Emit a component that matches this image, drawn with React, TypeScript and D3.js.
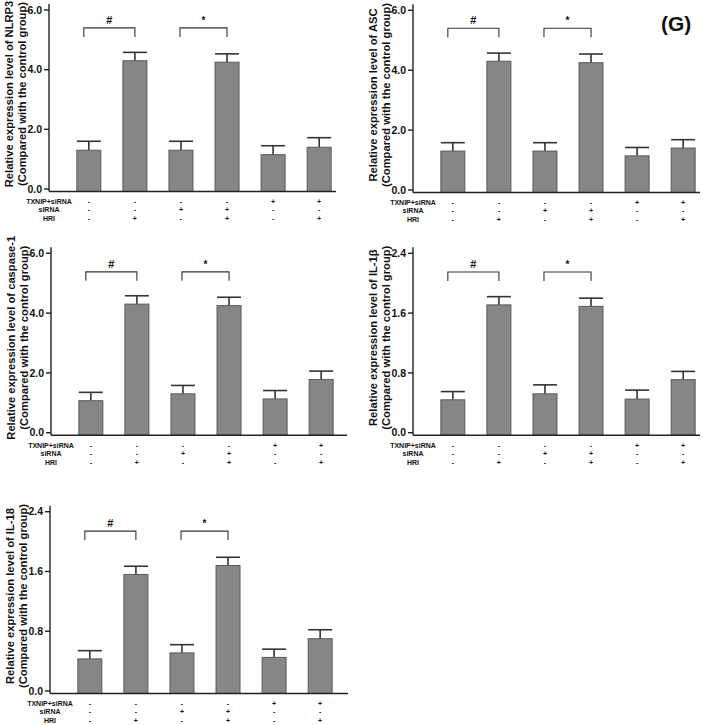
import React from "react";
import * as d3 from "d3";

const conditions = ["Control", "HRI", "siRNA", "siRNA+HRI", "TXNIP+siRNA", "TXNIP+siRNA+HRI"];
const rowLabels = ["TXNIP+siRNA", "siRNA", "HRI"];
const txnipSigns = ["-", "-", "-", "-", "+", "+"];
const sirnaSigns = ["-", "-", "+", "+", "-", "-"];
const hriSigns = ["-", "+", "-", "+", "-", "+"];

const nlrp3Mean = [1.3, 4.3, 1.3, 4.25, 1.15, 1.4];
const nlrp3Err = [0.3, 0.28, 0.3, 0.28, 0.3, 0.32];
const ascMean = [1.3, 4.3, 1.3, 4.25, 1.14, 1.4];
const ascErr = [0.28, 0.27, 0.28, 0.29, 0.28, 0.28];
const casp1Mean = [1.07, 4.3, 1.3, 4.25, 1.13, 1.78];
const casp1Err = [0.28, 0.28, 0.28, 0.28, 0.28, 0.28];
const il1bMean = [0.44, 1.71, 0.52, 1.69, 0.45, 0.71];
const il1bErr = [0.11, 0.11, 0.12, 0.11, 0.12, 0.11];
const il18Mean = [0.43, 1.56, 0.51, 1.68, 0.45, 0.7];
const il18Err = [0.11, 0.11, 0.11, 0.11, 0.11, 0.12];

const ticks6 = [0, 2, 4, 6];
const ticks24 = [0, 0.8, 1.6, 2.4];

const sigPairs: [number, number, string][] = [
  [0, 1, "#"],
  [2, 3, "*"],
];

const FONT = '"Liberation Sans", Arial, Helvetica, sans-serif';

type PanelSpec = {
  name: string;
  mean: number[];
  err: number[];
  ticks: number[];
  bracket: number;
  x0: number;
  yTop: number;
  y0: number;
  axisLen: number;
};

const panels: PanelSpec[] = [
  { name: "NLRP3", mean: nlrp3Mean, err: nlrp3Err, ticks: ticks6, bracket: 5.4, x0: 49, yTop: 10, y0: 189, axisLen: 287 },
  { name: "ASC", mean: ascMean, err: ascErr, ticks: ticks6, bracket: 5.4, x0: 413, yTop: 10.3, y0: 190, axisLen: 287 },
  { name: "caspase-1", mean: casp1Mean, err: casp1Err, ticks: ticks6, bracket: 5.38, x0: 51, yTop: 253.3, y0: 432.7, axisLen: 296 },
  { name: "IL-1β", mean: il1bMean, err: il1bErr, ticks: ticks24, bracket: 2.15, x0: 413, yTop: 253.3, y0: 432.7, axisLen: 287 },
  { name: "IL-18", mean: il18Mean, err: il18Err, ticks: ticks24, bracket: 2.14, x0: 50, yTop: 511.7, y0: 691, axisLen: 298 },
];

const signRows = [txnipSigns, sirnaSigns, hriSigns];
const rowOffsets = [12.5, 21, 29.5];

function Panel({ p }: { p: PanelSpec }) {
  const maxV = p.ticks[p.ticks.length - 1];
  const y = d3.scaleLinear().domain([0, maxV]).range([p.y0, p.yTop]);
  const x = d3
    .scaleBand<string>()
    .domain(conditions)
    .range([p.x0 + 16.8, p.x0 + 293.2])
    .paddingInner(0.479)
    .paddingOuter(0.2395);
  const bw = x.bandwidth();
  const xAxisY = p.y0 + 2.5;
  const fmt = d3.format(".1f");
  const cx = (i: number) => (x(conditions[i]) as number) + bw / 2;
  const midY = p.y0 - 95;
  return (
    <g>
      {p.mean.map((v, i) => (
        <g key={i}>
          <line x1={cx(i)} x2={cx(i)} y1={y(v)} y2={y(v + p.err[i])} stroke="#333" strokeWidth={1.6} />
          <line x1={x(conditions[i]) as number} x2={(x(conditions[i]) as number) + bw} y1={y(v + p.err[i])} y2={y(v + p.err[i])} stroke="#333" strokeWidth={1.6} />
          <rect x={x(conditions[i]) as number} y={y(v)} width={bw} height={xAxisY - y(v)} fill="#868686" stroke="#5a5a5a" strokeWidth={1} />
        </g>
      ))}
      <line x1={p.x0} x2={p.x0} y1={p.yTop - 6} y2={xAxisY} stroke="#222" strokeWidth={1.4} />
      {p.ticks.map((t) => (
        <g key={t}>
          <line x1={p.x0 - 5} x2={p.x0} y1={y(t)} y2={y(t)} stroke="#222" strokeWidth={1.4} />
          <text x={p.x0 - 7} y={y(t)} dy="0.35em" textAnchor="end" fontSize={10.5} fontWeight="bold" fontFamily={FONT} fill="#111">
            {fmt(t)}
          </text>
        </g>
      ))}
      <line x1={p.x0} x2={p.x0 + p.axisLen} y1={xAxisY} y2={xAxisY} stroke="#222" strokeWidth={1.4} />
      <text transform={`translate(${p.x0 - 36},${midY}) rotate(-90)`} textAnchor="middle" fontSize={11.2} fontWeight="bold" fontFamily={FONT} fill="#111">
        {`Relative expression level of ${p.name}`}
      </text>
      <text transform={`translate(${p.x0 - 23},${midY}) rotate(-90)`} textAnchor="middle" fontSize={11.2} fontWeight="bold" fontFamily={FONT} fill="#111">
        (Compared with the control group)
      </text>
      {sigPairs.map(([a, b, s]) => {
        const yb = y(p.bracket);
        const xa = cx(a) - (s === "#" ? 5 : 1);
        return (
          <g key={s}>
            <path d={`M${xa},${yb + 9}V${yb}H${cx(b)}V${yb + 9}`} fill="none" stroke="#333" strokeWidth={1.1} />
            <text x={(xa + cx(b)) / 2} y={yb - 4} textAnchor="middle" fontSize={s === "#" ? 11 : 10} fontWeight="bold" fontFamily={FONT} fill="#111">
              {s}
            </text>
          </g>
        );
      })}
      {rowLabels.map((lab, r) => (
        <g key={lab}>
          <text x={p.x0} y={p.y0 + rowOffsets[r]} dy="0.35em" textAnchor="middle" fontSize={7} fontWeight="bold" fontFamily={FONT} fill="#111">
            {lab}
          </text>
          {signRows[r].map((s, i) => (
            <text key={i} x={cx(i)} y={p.y0 + rowOffsets[r]} dy="0.35em" textAnchor="middle" fontSize={7} fontWeight="bold" fontFamily={FONT} fill="#111">
              {s}
            </text>
          ))}
        </g>
      ))}
    </g>
  );
}

export default function App() {
  return (
    <svg width={703} height={725} style={{ position: "absolute", left: 0, top: 0, background: "#fff" }}>
      <rect width={703} height={725} fill="#fff" />
      {panels.map((p) => (
        <Panel key={p.name} p={p} />
      ))}
      <text x={661} y={31} fontSize={21} fontWeight="bold" fontFamily={FONT} fill="#111">
        (G)
      </text>
    </svg>
  );
}
